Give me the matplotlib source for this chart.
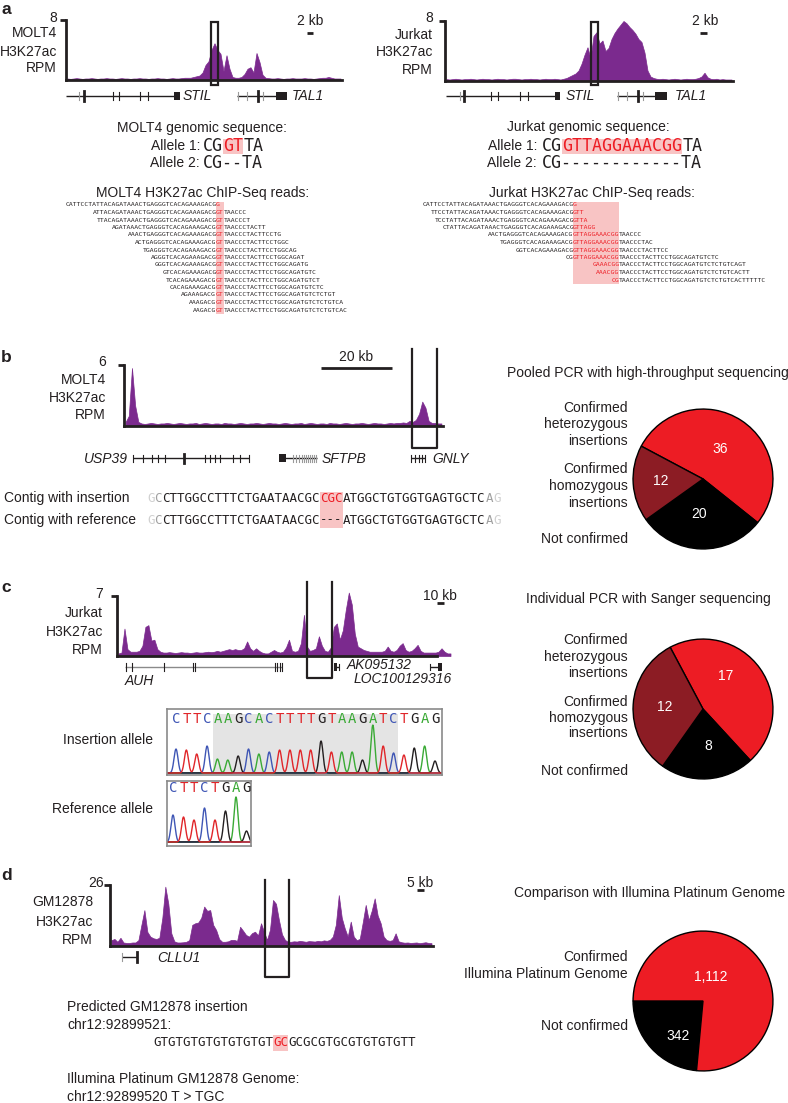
import numpy as np
import matplotlib.pyplot as plt
from matplotlib.patches import Rectangle

W, H = 788, 1103
PURPLE = '#7b2a8e'
RED = '#ed1c24'
DARK_RED = '#8c1c24'
PINK = '#f8c4c4'
INK = '#231f20'
SANS = ['Liberation Sans', 'DejaVu Sans']
MONO = 'DejaVu Sans Mono'
BASE_COLORS = {'A': '#3aaa35', 'C': '#3f56b5', 'G': '#231f20', 'T': '#e0262a'}

# H3K27ac ChIP-seq coverage (RPM), equal-width bins across each locus
molt4_stil_rpm = [
    0.2, 0.15, 0.2, 0.25, 0.2, 0.15, 0.2, 0.2, 0.25, 0.2,
    0.15, 0.2, 0.2, 0.25, 0.2, 0.2, 0.15, 0.2, 0.25, 0.2,
    0.2, 0.15, 0.2, 0.2, 0.25, 0.2, 0.2, 0.15, 0.2, 0.2,
    0.25, 0.2, 0.2, 0.15, 0.2, 0.25, 0.2, 0.2, 0.25, 0.3, 0.3,
    0.3, 0.4, 0.5, 0.6, 1.0, 2.0, 2.5, 4.0, 4.9, 4.0, 3.5, 1.2, 3.3, 1.5,
    0.4, 0.3, 0.3, 0.4, 0.8, 1.5, 1.7, 1.0, 3.6, 2.4, 0.7,
    0.3, 0.25, 0.2, 0.2, 0.25, 0.2, 0.15, 0.2, 0.2, 0.25, 0.2, 0.2, 0.2,
    0.25, 0.2, 0.2, 0.15, 0.2, 0.25, 0.3, 0.3, 0.4, 0.3, 0.2, 0.2, 0.2,
]
jurkat_stil_rpm = [
    0.25, 0.2, 0.25, 0.3, 0.25, 0.2, 0.25, 0.25, 0.3, 0.25,
    0.2, 0.25, 0.3, 0.25, 0.25, 0.2, 0.25, 0.3, 0.25, 0.25,
    0.2, 0.25, 0.3, 0.3, 0.25, 0.2, 0.25, 0.25, 0.3, 0.25,
    0.25, 0.2, 0.25, 0.3, 0.25, 0.25, 0.3, 0.25, 0.2, 0.3, 0.4,
    0.6, 0.8, 1.0, 1.4, 2.3, 3.5, 4.5, 3.0, 6.0, 6.5, 5.0, 5.4, 4.0, 4.4,
    5.6, 6.4, 7.0, 7.5, 8.0, 7.7, 7.2, 6.8, 6.3, 5.6, 5.2, 3.8, 1.4, 0.6, 0.4,
    0.3, 0.25, 0.3, 0.25, 0.2, 0.25, 0.3, 0.25, 0.2, 0.25, 0.3, 0.25, 0.25,
    0.3, 0.4, 0.6, 1.1, 0.5, 0.3, 0.25, 0.3, 0.2, 0.25, 0.2, 0.2, 0.2,
]
molt4_gnly_rpm = [
    0.4, 1.0, 5.7, 2.0, 0.4,
    0.25, 0.2, 0.25, 0.3, 0.25, 0.2, 0.25, 0.25, 0.3, 0.25, 0.2, 0.25,
    0.3, 0.25, 0.2, 0.25, 0.25, 0.3, 0.2, 0.25, 0.3, 0.25, 0.2, 0.25,
    0.25, 0.2, 0.3, 0.25, 0.25, 0.2, 0.25, 0.3, 0.25, 0.2, 0.25, 0.25,
    0.3, 0.25, 0.2, 0.25, 0.3, 0.25, 0.25, 0.2, 0.25, 0.3, 0.25, 0.2,
    0.25, 0.25, 0.3, 0.2, 0.25, 0.3, 0.25, 0.2, 0.25, 0.25, 0.2, 0.3,
    0.25, 0.25, 0.2, 0.25, 0.3, 0.25, 0.2, 0.25, 0.25, 0.3, 0.25, 0.2,
    0.25, 0.3, 0.25, 0.25, 0.2, 0.25, 0.3, 0.25, 0.3, 0.3, 0.35, 0.3,
    0.5, 0.4, 0.6, 1.2, 2.4, 1.8, 0.5, 0.3, 0.3, 0.25, 0.25,
]
jurkat_auh_rpm = [
    0.3, 0.4, 3.2, 0.8, 0.5, 0.5, 0.5, 0.6, 1.2, 3.4, 3.6, 1.8, 1.9, 0.8, 0.5,
    0.4, 0.4, 0.45, 0.4, 0.35, 0.4, 0.45, 0.4, 0.4, 0.35, 0.4, 0.45, 0.4, 0.4, 0.45, 0.5, 0.45, 0.5,
    0.6, 0.5, 0.6, 0.7, 0.8, 0.7, 0.8, 0.7, 0.7,
    0.9, 1.7, 0.9, 0.6, 0.9, 0.6, 0.4, 0.3, 0.3, 0.5, 0.7, 0.5, 0.4, 0.5, 1.0,
    1.9, 0.6, 0.5, 0.6, 1.5, 4.8, 1.1, 0.6, 0.7, 0.9, 2.3, 1.2, 0.6, 0.5, 1.0,
    3.4, 3.8, 1.9, 3.0, 5.4, 7.4, 6.0, 2.6, 1.1, 0.9, 0.7, 0.6,
    0.5, 0.5, 0.5, 0.5, 0.5, 0.6, 1.1, 0.6, 0.5, 0.7, 1.2, 1.5, 0.7, 0.5,
    0.6, 0.9, 1.3, 0.6, 0.4, 0.4, 0.4, 0.4, 0.4, 0.5, 0.9, 0.5, 0.3, 0.3,
]
gm12878_cllu1_rpm = [
    2.5, 3.0, 1.8, 3.5, 1.5, 1.3, 1.3, 1.5, 1.5, 2.5,
    9.0, 15.3, 6.0, 4.0, 3.3, 3.0, 3.5, 12.0, 25.3, 18.0,
    5.4, 2.0, 1.5, 1.5, 1.6, 1.8, 2.5, 9.0, 9.7, 10.0,
    12.0, 16.8, 15.0, 15.3, 9.0, 6.8, 3.0, 1.8, 1.8, 2.0,
    2.6, 2.6, 2.2, 8.2, 6.5, 4.7, 4.0, 5.5, 6.1, 4.5,
    9.7, 6.0, 2.6, 7.0, 19.6, 18.0, 11.0, 5.0, 2.6, 1.8,
    1.8, 2.0, 1.9, 2.2, 2.0, 1.8, 2.1, 2.0, 1.9, 2.2,
    2.0, 2.4, 2.2, 2.6, 4.0, 9.0, 21.7, 12.0, 7.5, 4.0,
    10.4, 4.0, 2.5, 3.0, 10.0, 17.5, 11.0, 15.0, 20.3, 13.0,
    9.7, 4.0, 2.5, 2.2, 2.5, 5.4, 2.0, 1.6, 1.4, 1.5,
    1.3, 1.4, 1.5, 1.2, 1.4, 1.6, 1.3, 1.2,
]

# validation pies
pie_labels = ['Confirmed', 'heterozygous', 'insertions', 'Confirmed', 'homozygous', 'insertions', 'Not confirmed']
pooled_counts = [36, 20, 12]        # heterozygous, not confirmed, homozygous
sanger_counts = [17, 8, 12]
platinum_counts = [342, 1112]       # not confirmed, confirmed

# Sanger traces: called bases and peak heights
insertion_bases = 'CTTCAAGCACTTTTGTAAGATCTGAG'
insertion_peaks = [24, 23, 19, 27, 14, 13, 17, 24, 19, 21, 23, 23, 23, 23,
                   32, 21, 21, 21, 13, 48, 27, 20, 18, 25, 27, 12]
reference_bases = 'CTTCTGAG'
reference_peaks = [27, 25, 22, 34, 22, 31, 45, 11]

# ChIP-seq reads: (left flank, inserted bases, right flank, offset into insertion)
molt4_reads = [
    ('CATTCCTATTACAGATAAACTGAGGGTCACAGAAAGACG', 'G', '', 0),
    ('ATTACAGATAAACTGAGGGTCACAGAAAGACG', 'GT', 'TAACCC', 0),
    ('TTACAGATAAACTGAGGGTCACAGAAAGACG', 'GT', 'TAACCCT', 0),
    ('AGATAAACTGAGGGTCACAGAAAGACG', 'GT', 'TAACCCTACTT', 0),
    ('AAACTGAGGGTCACAGAAAGACG', 'GT', 'TAACCCTACTTCCTG', 0),
    ('ACTGAGGGTCACAGAAAGACG', 'GT', 'TAACCCTACTTCCTGGC', 0),
    ('TGAGGGTCACAGAAAGACG', 'GT', 'TAACCCTACTTCCTGGCAG', 0),
    ('AGGGTCACAGAAAGACG', 'GT', 'TAACCCTACTTCCTGGCAGAT', 0),
    ('GGGTCACAGAAAGACG', 'GT', 'TAACCCTACTTCCTGGCAGATG', 0),
    ('GTCACAGAAAGACG', 'GT', 'TAACCCTACTTCCTGGCAGATGTC', 0),
    ('TCACAGAAAGACG', 'GT', 'TAACCCTACTTCCTGGCAGATGTCT', 0),
    ('CACAGAAAGACG', 'GT', 'TAACCCTACTTCCTGGCAGATGTCTC', 0),
    ('AGAAAGACG', 'GT', 'TAACCCTACTTCCTGGCAGATGTCTCTGT', 0),
    ('AAAGACG', 'GT', 'TAACCCTACTTCCTGGCAGATGTCTCTGTCA', 0),
    ('AAGACG', 'GT', 'TAACCCTACTTCCTGGCAGATGTCTCTGTCAC', 0),
]
jurkat_reads = [
    ('CATTCCTATTACAGATAAACTGAGGGTCACAGAAAGACG', 'G', '', 0),
    ('TTCCTATTACAGATAAACTGAGGGTCACAGAAAGACG', 'GTT', '', 0),
    ('TCCTATTACAGATAAACTGAGGGTCACAGAAAGACG', 'GTTA', '', 0),
    ('CTATTACAGATAAACTGAGGGTCACAGAAAGACG', 'GTTAGG', '', 0),
    ('AACTGAGGGTCACAGAAAGACG', 'GTTAGGAAACGG', 'TAACCC', 0),
    ('TGAGGGTCACAGAAAGACG', 'GTTAGGAAACGG', 'TAACCCTAC', 0),
    ('GGTCACAGAAAGACG', 'GTTAGGAAACGG', 'TAACCCTACTTCC', 0),
    ('CG', 'GTTAGGAAACGG', 'TAACCCTACTTCCTGGCAGATGTCTC', 0),
    ('', 'GAAACGG', 'TAACCCTACTTCCTGGCAGATGTCTCTGTCAGT', 5),
    ('', 'AAACGG', 'TAACCCTACTTCCTGGCAGATGTCTCTGTCACTT', 6),
    ('', 'CG', 'TAACCCTACTTCCTGGCAGATGTCTCTGTCACTTTTTC', 10),
]

plt.rcParams['font.family'] = SANS
plt.rcParams['font.size'] = 10
plt.rcParams['text.color'] = INK

fig = plt.figure(figsize=(W / 100, H / 100), dpi=100)


def px_axes(x0, y0, x1, y1, **kw):
    return fig.add_axes([x0 / W, 1 - y1 / H, (x1 - x0) / W, (y1 - y0) / H], **kw)


ov = px_axes(0, 0, W, H, zorder=10)
ov.set_xlim(0, W)
ov.set_ylim(H, 0)
ov.axis('off')


def txt(x, y, s, **kw):
    kw.setdefault('va', 'center')
    ov.text(x, y, s, **kw)


def mono_w(size):
    return size * 100 / 72 * 0.6021


def seq(x, y, parts, size):
    cw = mono_w(size)
    for s, c in parts:
        if s:
            ov.text(x, y, s, color=c, fontsize=size, family=MONO, va='center', ha='left')
        x += len(s) * cw


def shade(x0, x1, y0, y1, color=PINK):
    ov.add_patch(Rectangle((x0, y0), x1 - x0, y1 - y0, color=color, lw=0, zorder=0))


def read_block(rows, ins_x, y0, dy, size=4.6):
    cw = mono_w(size)
    for k, (pre, ins, post, off) in enumerate(rows):
        seq(ins_x + (off - len(pre)) * cw, y0 + k * dy, [(pre, INK), (ins, RED), (post, INK)], size)


def track(vals, ymax, x0, ytop, x1, ybase, spine_px=None):
    ax = px_axes(x0, ytop, x1, ybase)
    x = np.arange(len(vals))
    ax.fill_between(x, 0, vals, color=PURPLE, lw=0.5, clip_on=False)
    ax.set_xlim(-0.5, len(vals) - 0.5)
    ax.set_ylim(0, ymax)
    ax.patch.set_alpha(0)
    for s in ['top', 'right']:
        ax.spines[s].set_visible(False)
    for s in ['left', 'bottom']:
        ax.spines[s].set_linewidth(2)
        ax.spines[s].set_color(INK)
    ax.set_xticks([])
    ax.set_yticks([ymax])
    ax.set_yticklabels([])
    ax.tick_params(axis='y', length=4, width=2, color=INK)
    if spine_px is not None:
        ax.spines['bottom'].set_bounds(-0.5, -0.5 + len(vals) * (spine_px - x0) / (x1 - x0))
    return ax


def ylabels(xr, top_txt, y_top, lines, ys, xr_lines=None):
    txt(xr, y_top, top_txt, ha='right')
    for s, y in zip(lines, ys):
        txt(xr if xr_lines is None else xr_lines, y, s, ha='right')


def gene(x0, x1, y, ticks=(), thick=(), grey=(), blocks=(), lc=INK, lw=1.0, th=4):
    ov.plot([x0, x1], [y, y], color=lc, lw=lw, solid_capstyle='butt')
    for t in ticks:
        ov.plot([t, t], [y - th, y + th], color=INK, lw=0.8)
    for t in grey:
        ov.plot([t, t], [y - th, y + th], color='#9a9a9a', lw=0.8)
    for t in thick:
        ov.plot([t, t], [y - th - 1, y + th + 1], color=INK, lw=2.0)
    for b0, b1 in blocks:
        ov.add_patch(Rectangle((b0, y - 4), b1 - b0, 8, color=INK, lw=0))


def box(x0, x1, y0, y1, closed=True):
    if closed:
        ov.add_patch(Rectangle((x0, y0), x1 - x0, y1 - y0, fill=False, ec=INK, lw=1.6))
    else:
        ov.plot([x0, x0, x1, x1], [y0, y1, y1, y0], color=INK, lw=1.6)


def scalebar(xc, y_txt, b0, b1, y_bar, label):
    txt(xc, y_txt, label, ha='center')
    ov.plot([b0, b1], [y_bar, y_bar], color=INK, lw=2, solid_capstyle='butt')


def pie(counts, colors, start, ccw, cx, cy, r=70):
    ax = px_axes(cx - r - 1, cy - r - 1, cx + r + 1, cy + r + 1)
    ax.pie(counts, colors=colors, startangle=start, counterclock=ccw, radius=1,
           wedgeprops=dict(edgecolor='black', linewidth=1))
    ax.set_xlim(-1.015, 1.015)
    ax.set_ylim(-1.015, 1.015)
    return ax


def chromatogram(bases, peaks, x0, y0, x1, y1, first_px, step_px, base_px, letter_y, span=None):
    ax = px_axes(x0, y0, x1, y1)
    ax.set_xlim((x0 - first_px) / step_px, (x1 - first_px) / step_px)
    ax.set_ylim(-(y1 - base_px), base_px - y0)
    if span is not None:
        ax.axvspan(span[0], span[1], ymin=0.04, ymax=0.93, color='#e4e4e4', lw=0)
    grid = np.linspace(-1, len(bases), 800)
    for b, col in BASE_COLORS.items():
        trace = np.zeros_like(grid)
        for i, (bb, h) in enumerate(zip(bases, peaks)):
            if bb == b:
                trace += h * np.exp(-((grid - i) / 0.27) ** 2)
        ax.plot(grid, trace, color=col, lw=1.0)
    for i, b in enumerate(bases):
        ax.text(i, base_px - letter_y, b, color=BASE_COLORS[b], ha='center', va='center',
                fontsize=10, family=MONO)
    ax.set_xticks([])
    ax.set_yticks([])
    for s in ax.spines.values():
        s.set_color('#8a8a8a')
        s.set_linewidth(1.2)
    return ax


# ---------------- panel a ----------------
txt(1, 10, 'a', fontsize=12.5, fontweight='bold', ha='left')

track(molt4_stil_rpm, 8, 66, 20, 342, 80)
ylabels(57, '8', 18, ['MOLT4', 'H3K27ac', 'RPM'], [33, 52, 68])
box(211, 218, 22, 85)
scalebar(310, 21, 307, 313, 33, '2 kb')
gene(66, 177, 96, ticks=[113, 119, 140, 148], grey=[79], thick=[84], blocks=[(174, 180)])
txt(183, 96, 'STIL', style='italic', ha='left')
gene(237, 276, 96, grey=[238, 247, 263], thick=[258], blocks=[(276, 287)])
txt(292, 96, 'TAL1', style='italic', ha='left')

track(jurkat_stil_rpm, 8, 445, 21, 733, 81)
ylabels(433, '8', 18, ['Jurkat', 'H3K27ac', 'RPM'], [35, 52, 70])
box(591, 598, 22, 85)
scalebar(705, 21, 700, 707, 33, '2 kb')
gene(446, 558, 96, ticks=[491, 498, 520, 528], grey=[460], thick=[464], blocks=[(555, 560)])
txt(566, 96, 'STIL', style='italic', ha='left')
gene(617, 655, 96, grey=[618, 627, 643], thick=[638], blocks=[(655, 667)])
txt(675, 96, 'TAL1', style='italic', ha='left')

# genomic alleles
txt(202, 128, 'MOLT4 genomic sequence:', ha='center')
txt(200, 146, 'Allele 1:', ha='right')
txt(200, 163, 'Allele 2:', ha='right')
shade(203 + 2 * mono_w(12), 203 + 4 * mono_w(12), 139, 154)
seq(203, 146, [('CG', INK), ('GT', RED), ('TA', INK)], 12)
seq(203, 163, [('CG--TA', INK)], 12)

txt(588, 127, 'Jurkat genomic sequence:', ha='center')
txt(537, 146, 'Allele 1:', ha='right')
txt(537, 163, 'Allele 2:', ha='right')
shade(542 + 2 * mono_w(12), 542 + 14 * mono_w(12), 139, 154)
seq(542, 146, [('CG', INK), ('GTTAGGAAACGG', RED), ('TA', INK)], 12)
seq(542, 163, [('CG------------TA', INK)], 12)

# reads
txt(203, 193, 'MOLT4 H3K27ac ChIP-Seq reads:', ha='center')
shade(216, 216 + 2 * mono_w(4.6), 202, 314)
read_block(molt4_reads, 216, 205, 7.5)

txt(592, 193, 'Jurkat H3K27ac ChIP-Seq reads:', ha='center')
shade(573, 573 + 12 * mono_w(4.6), 202, 284)
read_block(jurkat_reads, 573, 205, 7.5)

# ---------------- panel b ----------------
txt(1, 357, 'b', fontsize=12.5, fontweight='bold', ha='left')
track(molt4_gnly_rpm, 6, 124, 365, 443, 426)
ylabels(106, '6', 362, ['MOLT4', 'H3K27ac', 'RPM'], [380, 398, 415])
box(412, 437, 349, 448, closed=False)
scalebar(356, 357, 321, 392, 368, '20 kb')
txt(128, 459, 'USP39', style='italic', ha='right')
gene(133, 249, 458, ticks=[133, 143, 152, 158, 165, 205, 210, 215, 220, 233, 240, 249], thick=[184], th=3.5)
gene(279, 317, 458, grey=[293, 296, 299, 302, 304, 306, 308, 310, 312, 314, 316], blocks=[(279, 286)], th=3.5)
txt(322, 459, 'SFTPB', style='italic', ha='left')
gene(411, 425, 458, ticks=[411, 415, 419, 422, 425], th=3.5)
txt(432, 459, 'GNLY', style='italic', ha='left')

txt(4, 498, 'Contig with insertion', ha='left')
txt(4, 520, 'Contig with reference', ha='left')
cw9 = mono_w(9)
shade(147 + 23 * cw9, 147 + 26 * cw9, 492, 528)
flank_l = [('G', '#d0d0d0'), ('C', '#a0a0a0'), ('CTTGGCCTTTCTGAATAACGC', INK)]
flank_r = [('ATGGCTGTGGTGAGTGCTC', INK), ('A', '#a0a0a0'), ('G', '#d0d0d0')]
seq(147, 498, flank_l + [('CGC', RED)] + flank_r, 9)
seq(147, 520, flank_l + [('---', INK)] + flank_r, 9)

# ---------------- panel c ----------------
txt(1, 588, 'c', fontsize=12.5, fontweight='bold', ha='left')
track(jurkat_auh_rpm, 7, 117, 596, 452, 656, spine_px=437)
ylabels(103, '7', 594, ['Jurkat', 'H3K27ac', 'RPM'], [613, 632, 650])
box(307, 332, 582, 678, closed=False)
scalebar(440, 596, 437, 444, 603, '10 kb')
gene(125, 282, 667, ticks=[126, 132, 164, 193, 195, 275, 277, 280, 282], lc='#8a8a8a', th=4)
txt(125, 681, 'AUH', style='italic', ha='left')
gene(334, 339, 667, ticks=[339], blocks=[(334, 337)], lc=INK, th=3)
txt(347, 665, 'AK095132', style='italic', ha='left')
gene(430, 438, 667, ticks=[430], blocks=[(438, 442)], th=3)
txt(452, 679, 'LOC100129316', style='italic', ha='right')

chromatogram(insertion_bases, insertion_peaks, 167, 709, 442, 775, 176, 10.36, 773, 719, span=(3.55, 21.45))
chromatogram(reference_bases, reference_peaks, 167, 781, 251, 846, 173, 10.5, 842, 788)
txt(153, 740, 'Insertion allele', ha='right')
txt(153, 809, 'Reference allele', ha='right')

# ---------------- panel d ----------------
txt(1, 875, 'd', fontsize=12.5, fontweight='bold', ha='left')
track(gm12878_cllu1_rpm, 26, 110, 885, 433, 946)
ylabels(104, '26', 883, ['GM12878', 'H3K27ac', 'RPM'], [902, 922, 940], xr_lines=93)
box(265, 289, 880, 977, closed=False)
scalebar(420, 883, 417, 424, 890, '5 kb')
gene(122, 137, 957, grey=[122], thick=[137], th=4)
txt(157, 958, 'CLLU1', style='italic', ha='left')

txt(67, 1007, 'Predicted GM12878 insertion', ha='left')
txt(67, 1025, 'chr12:92899521:', ha='left')
shade(153 + 16 * cw9, 153 + 18 * cw9, 1035, 1051)
seq(153, 1043, [('GTGTGTGTGTGTGTGT', INK), ('GC', RED), ('GCGCGTGCGTGTGTGTT', INK)], 9)
txt(67, 1079, 'Illumina Platinum GM12878 Genome:', ha='left')
txt(67, 1097, 'chr12:92899520 T > TGC', ha='left')

# ---------------- pies ----------------
pie(pooled_counts, [RED, 'black', DARK_RED], 152, False, 703, 479)
txt(648, 373, 'Pooled PCR with high-throughput sequencing', ha='center')
for s, y in zip(pie_labels, [408, 424, 441, 469, 486, 503, 539]):
    txt(628, y, s, ha='right')
for v, (x, y) in zip(pooled_counts, [(720, 449), (699, 514), (661, 481)]):
    txt(x, y, f'{v:,}', ha='center', color='white')

pie(sanger_counts, [RED, 'black', DARK_RED], 118, False, 703, 709)
txt(648, 599, 'Individual PCR with Sanger sequencing', ha='center')
for s, y in zip(pie_labels, [640, 657, 673, 702, 718, 733, 771]):
    txt(628, y, s, ha='right')
for v, (x, y) in zip(sanger_counts, [(726, 676), (708, 746), (665, 707)]):
    txt(x, y, f'{v:,}', ha='center', color='white')

pie(platinum_counts, ['black', RED], 180, True, 703, 1001)
txt(650, 893, 'Comparison with Illumina Platinum Genome', ha='center')
txt(628, 957, 'Confirmed', ha='right')
txt(628, 974, 'Illumina Platinum Genome', ha='right')
txt(628, 1026, 'Not confirmed', ha='right')
for v, (x, y) in zip(platinum_counts, [(678, 1036), (711, 977)]):
    txt(x, y, f'{v:,}', ha='center', color='white')

fig.savefig('out.png', dpi=100)
